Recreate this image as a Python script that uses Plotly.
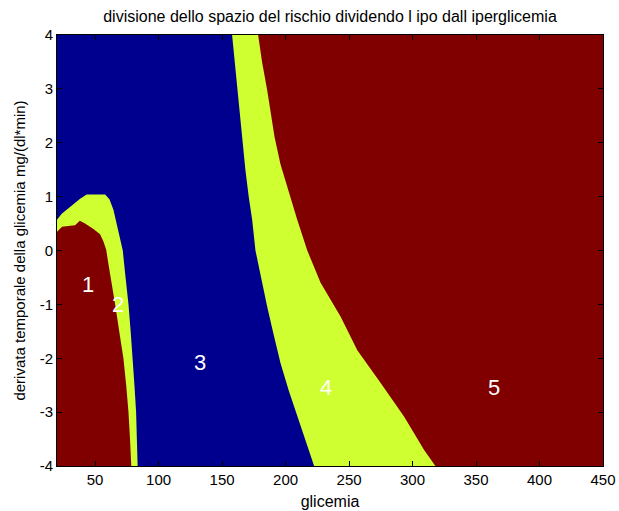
import plotly.graph_objects as go

# Region boundaries (glicemia, derivata)
# Region 2 (yellow) outer boundary, left edge -> hump -> bottom
r2_x = [20, 20, 23.7, 27.6, 32.9, 38.2, 43.4, 57.9, 61.3, 64.5, 67.1, 69.7, 71.8, 74.0, 76.3, 78.0, 79.7, 81.0, 82.3, 83.0, 83.5]
r2_y = [-4, 0.57, 0.68, 0.75, 0.86, 0.96, 1.04, 1.04, 0.95, 0.75, 0.5, 0.2, 0.0, -0.5, -1.0, -1.5, -2.0, -2.5, -3.0, -3.5, -4]
# Region 1 (dark red)
r1_x = [20, 20, 24, 34.2, 38, 42.1, 48.7, 53.9, 56.5, 58.7, 60.5, 63.2, 65.8, 69.0, 72.3, 74.5, 76.3, 77.5, 78.5]
r1_y = [-4, 0.35, 0.44, 0.47, 0.55, 0.5, 0.4, 0.3, 0.17, 0.02, -0.25, -0.6, -1.0, -1.5, -2.0, -2.5, -3.0, -3.5, -4]
# Region 3/4 boundary (blue | yellow)
b34_x = [157.9, 160.0, 162.3, 165.0, 168.4, 171.0, 173.7, 176.3, 180.5, 185.5, 190.5, 196.0, 202.5, 209.2, 216.0, 222.5]
b34_y = [4, 3.5, 2.85, 2.2, 1.49, 1.0, 0.57, 0.0, -0.5, -1.04, -1.55, -2.09, -2.6, -3.08, -3.55, -4]
# Region 4/5 boundary (yellow | dark red)
b45_x = [178.4, 181.5, 185.5, 191.3, 196.0, 201.3, 209.2, 217.1, 227.6, 243.4, 256.5, 274.9, 293.3, 309.0, 318.0]
b45_y = [4, 3.5, 2.98, 2.11, 1.6, 1.18, 0.57, 0.0, -0.6, -1.23, -1.85, -2.46, -3.08, -3.7, -4]

x_min, x_max = 20, 450
y_min, y_max = -4, 4
x_ticks = [50, 100, 150, 200, 250, 300, 350, 400, 450]
y_ticks = [-4, -3, -2, -1, 0, 1, 2, 3, 4]
y_tick_text = ["-4", "-3", "-2", "-1", "0", "1", "2", "3", "4"]

labels = ["1", "2", "3", "4", "5"]
label_x = [44.5, 68, 133, 231.5, 364]
label_y = [-0.64, -1.0, -2.07, -2.55, -2.55]

BLUE = "#00008F"
YELLOW = "#CFFF30"
RED = "#800000"
FONT = "Liberation Sans, Arial"

fig = go.Figure()

def poly(xs, ys, color):
    fig.add_trace(go.Scatter(x=xs, y=ys, fill="toself", fillcolor=color,
                             mode="lines", line=dict(width=0, color=color),
                             hoverinfo="skip", showlegend=False))

poly(r2_x, r2_y, YELLOW)
poly(r1_x, r1_y, RED)
poly(b34_x + [x_max, x_max], b34_y + [y_min, y_max], YELLOW)
poly(b45_x + [x_max, x_max], b45_y + [y_min, y_max], RED)

for t, lx, ly in zip(labels, label_x, label_y):
    fig.add_annotation(x=lx, y=ly, text=t, showarrow=False,
                       font=dict(color="white", size=22, family=FONT))

fig.update_layout(
    width=619, height=511,
    margin=dict(l=57, r=16, t=35, b=45),
    paper_bgcolor="white", plot_bgcolor=BLUE,
    font=dict(family=FONT, size=15, color="black"),
    title=dict(text="divisione dello spazio del rischio dividendo l ipo dall iperglicemia",
               x=0.5, xref="paper", xanchor="center", y=0.967, yanchor="middle",
               font=dict(size=16)),
)
fig.update_xaxes(range=[x_min, x_max], tickvals=x_ticks, ticks="inside", ticklen=5,
                 tickcolor="black", showline=True, linecolor="black", linewidth=1,
                 mirror="ticks", showgrid=False, zeroline=False, automargin=False,
                 title=dict(text="glicemia", font=dict(size=16), standoff=8))
fig.update_yaxes(range=[y_min, y_max], tickvals=y_ticks, ticktext=y_tick_text,
                 ticks="inside", ticklen=5,
                 tickcolor="black", showline=True, linecolor="black", linewidth=1,
                 mirror="ticks", showgrid=False, zeroline=False, automargin=False,
                 title=dict(text="derivata temporale della glicemia mg/(dl*min)",
                            font=dict(size=15), standoff=10))

fig.write_html("out.html")
